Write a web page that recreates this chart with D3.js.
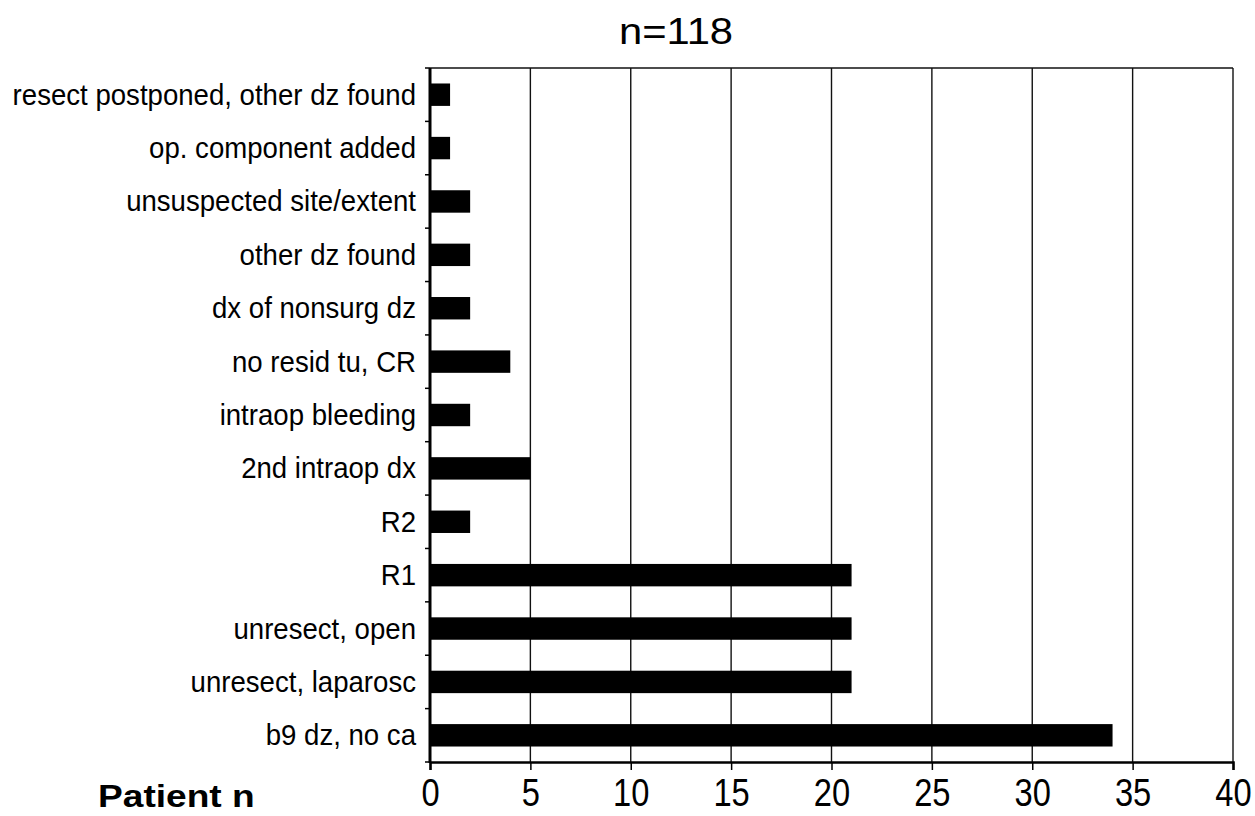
<!DOCTYPE html>
<html>
<head>
<meta charset="utf-8">
<script src="https://cdn.jsdelivr.net/npm/d3@7"></script>
<style>
  body { margin: 0; background: #fff; }
  svg { display: block; }
  text { font-family: "Liberation Sans", Arial, sans-serif; fill: #000; }
</style>
</head>
<body>
<svg id="chart" width="1255" height="816"></svg>
<script>
const categories = [
  "resect postponed, other dz found",
  "op. component added",
  "unsuspected site/extent",
  "other dz found",
  "dx of nonsurg dz",
  "no resid tu, CR",
  "intraop bleeding",
  "2nd intraop dx",
  "R2",
  "R1",
  "unresect, open",
  "unresect, laparosc",
  "b9 dz, no ca"
];
const patients = [1, 1, 2, 2, 2, 4, 2, 5, 2, 21, 21, 21, 34];
const xTicks = [0, 5, 10, 15, 20, 25, 30, 35, 40];
const title = "n=118";
const xTitle = "Patient n";

const svg = d3.select("#chart");
const margin = { top: 68, right: 22, bottom: 54, left: 430 };
const width = +svg.attr("width");
const height = +svg.attr("height");
const innerW = width - margin.left - margin.right;
const innerH = height - margin.top - margin.bottom;

const x = d3.scaleLinear().domain([0, 40]).range([0, innerW]);
const y = d3.scaleBand().domain(categories).range([0, innerH]).padding(0);
const barH = y.step() * 0.42;

const g = svg.append("g")
  .attr("transform", "translate(" + margin.left + "," + margin.top + ")");

// gridlines
g.append("g")
  .selectAll("line")
  .data(xTicks.filter(t => t > 0))
  .enter()
  .append("line")
  .attr("x1", d => x(d))
  .attr("x2", d => x(d))
  .attr("y1", 0)
  .attr("y2", innerH)
  .attr("stroke", "#111")
  .attr("stroke-width", 1.4);

// top frame line
g.append("line")
  .attr("x1", 0).attr("x2", innerW)
  .attr("y1", 0).attr("y2", 0)
  .attr("stroke", "#111").attr("stroke-width", 1.4);

// bars
g.selectAll("rect.bar")
  .data(patients)
  .enter()
  .append("rect")
  .attr("class", "bar")
  .attr("x", 0)
  .attr("y", (d, i) => y(categories[i]) + (y.step() - barH) / 2)
  .attr("width", d => x(d))
  .attr("height", barH)
  .attr("fill", "#000");

// x axis
const xAxis = g.append("g")
  .attr("transform", "translate(0," + innerH + ")")
  .call(d3.axisBottom(x).tickValues(xTicks).tickSize(8));
xAxis.select(".domain").attr("stroke", "#000").attr("stroke-width", 2.5);
xAxis.selectAll(".tick line").attr("stroke", "#000").attr("stroke-width", 1.5);
xAxis.selectAll(".tick text").remove();
xAxis.selectAll(".tick")
  .append("text")
  .attr("transform", "translate(0,44) scale(0.86,1)")
  .attr("text-anchor", "middle")
  .attr("font-size", 38)
  .text(d => d);

// y axis: ticks at band boundaries
const bounds = categories.map(c => y(c)).concat([innerH]);
g.append("g")
  .selectAll("line")
  .data(bounds)
  .enter()
  .append("line")
  .attr("x1", -5).attr("x2", 0)
  .attr("y1", d => d).attr("y2", d => d)
  .attr("stroke", "#000").attr("stroke-width", 1.5);
g.append("line")
  .attr("x1", 0).attr("x2", 0)
  .attr("y1", 0).attr("y2", innerH + 1)
  .attr("stroke", "#000").attr("stroke-width", 3);

// category labels
g.append("g")
  .selectAll("text")
  .data(categories)
  .enter()
  .append("text")
  .attr("transform", d => "translate(-14," + (y(d) + y.step() / 2 + 10) + ") scale(0.92,1)")
  .attr("text-anchor", "end")
  .attr("font-size", 30)
  .text(d => d);

// title
svg.append("text")
  .attr("transform", "translate(676,44) scale(1.16,1)")
  .attr("text-anchor", "middle")
  .attr("font-size", 36)
  .text(title);

// axis title
svg.append("text")
  .attr("transform", "translate(98,807) scale(1.16,1)")
  .attr("font-size", 32)
  .attr("font-weight", "bold")
  .text(xTitle);
</script>
</body>
</html>
